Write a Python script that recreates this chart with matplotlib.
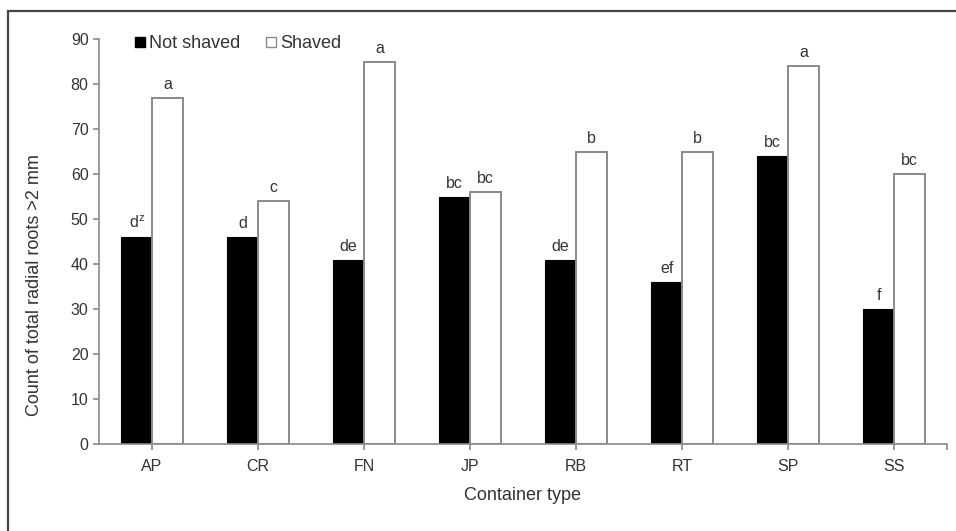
import matplotlib
matplotlib.use("Agg")
import matplotlib.pyplot as plt
from matplotlib.lines import Line2D
from matplotlib.patches import Rectangle
import numpy as np

containers = ["AP", "CR", "FN", "JP", "RB", "RT", "SP", "SS"]
not_shaved = [46, 46, 41, 55, 41, 36, 64, 30]
shaved = [77, 54, 85, 56, 65, 65, 84, 60]
not_shaved_letters = ["d$^\\mathregular{z}$", "d", "de", "bc", "de", "ef", "bc", "f"]
shaved_letters = ["a", "c", "a", "bc", "b", "b", "a", "bc"]

TXT = "#333333"
EDGE = "#8a8a8a"
W, H = 956, 531

plt.rcParams["font.family"] = ["Liberation Sans", "DejaVu Sans"]

fig = plt.figure(figsize=(W / 100, H / 100), dpi=100)
# page frame around the figure (cut off at right and bottom)
fig.patches.append(Rectangle((8 / W, -0.2), 1.2, 1.2 - 11 / H,
                             transform=fig.transFigure, fill=False,
                             edgecolor="#444444", lw=1.6))

ax = fig.add_axes([99 / W, 87 / H, 848 / W, 405 / H])
x = np.arange(len(containers))
w = 0.29
ax.bar(x - w / 2, not_shaved, w, color="black", edgecolor="black", lw=0.8)
ax.bar(x + w / 2, shaved, w, color="white", edgecolor=EDGE, lw=1.4)

for xi, v, lab in zip(x, not_shaved, not_shaved_letters):
    ax.annotate(lab, (xi - w / 2, v), xytext=(0, 4), textcoords="offset points",
                ha="center", va="bottom", fontsize=11.5, color=TXT)
for xi, v, lab in zip(x, shaved, shaved_letters):
    ax.annotate(lab, (xi + w / 2, v), xytext=(0, 4), textcoords="offset points",
                ha="center", va="bottom", fontsize=11.5, color=TXT)

ax.set_xlim(-0.5, 7.5)
ax.set_ylim(0, 90)
ax.set_yticks(range(0, 91, 10))
ax.set_xticks(x)
ax.set_xticklabels(containers)
ax.set_xticks([7.5], minor=True)
for s in ["top", "right"]:
    ax.spines[s].set_visible(False)
for s in ["left", "bottom"]:
    ax.spines[s].set_color(EDGE)
    ax.spines[s].set_linewidth(1.2)
ax.tick_params(axis="both", which="both", colors=EDGE, labelcolor=TXT,
               labelsize=11.5, length=4, width=1.2)
ax.tick_params(axis="x", pad=7)

ax.set_ylabel("Count of total radial roots >2 mm", fontsize=13, color=TXT, va="center")
ax.yaxis.set_label_coords(-64 / 848, 0.393)
ax.set_xlabel("Container type", fontsize=13, color=TXT, va="center")
ax.xaxis.set_label_coords(0.5, -52 / 405)

handles = [Line2D([], [], marker="s", ls="none", color="black", markersize=7),
           Line2D([], [], marker="s", ls="none", markerfacecolor="white",
                  markeredgecolor=EDGE, markersize=7)]
fig.legend(handles, ["Not shaved", "Shaved"], ncol=2, loc="center left",
           bbox_to_anchor=(135 / W, 1 - 44 / H), frameon=False, fontsize=13,
           handlelength=0.6, handletextpad=0.2, columnspacing=1.4,
           borderpad=0, borderaxespad=0, labelcolor=TXT)

fig.savefig("out.png", dpi=100)
